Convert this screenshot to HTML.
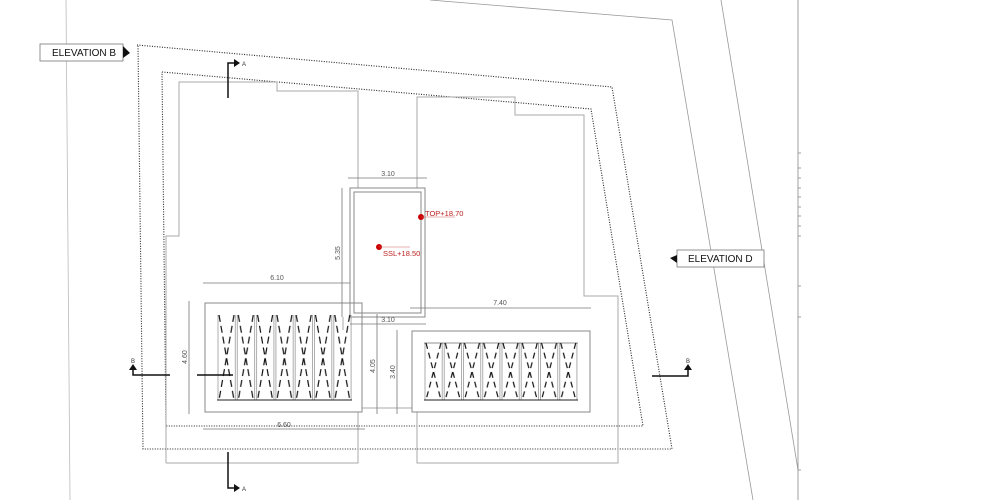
<!DOCTYPE html>
<html><head><meta charset="utf-8"><style>
html,body{margin:0;padding:0;background:#fff;width:1000px;height:500px;overflow:hidden}
svg{display:block}
text{font-family:"Liberation Sans",sans-serif}
</style></head><body>
<svg width="1000" height="500" viewBox="0 0 1000 500" xmlns="http://www.w3.org/2000/svg">
<defs>
<pattern id="hl" patternUnits="userSpaceOnUse" x="217" y="315" width="19.3" height="85">
<line x1="1" y1="0" x2="1" y2="85" stroke="#999" stroke-width="0.8"/>
<line x1="18.3" y1="0" x2="18.3" y2="85" stroke="#999" stroke-width="0.8"/>
<line x1="2" y1="0" x2="17" y2="85" stroke="#111" stroke-width="1.2" stroke-dasharray="7,4"/>
<line x1="17" y1="0" x2="2" y2="85" stroke="#111" stroke-width="1.2" stroke-dasharray="7,4"/>
</pattern>
<pattern id="hr" patternUnits="userSpaceOnUse" x="424" y="343" width="19.25" height="57">
<line x1="1" y1="0" x2="1" y2="57" stroke="#999" stroke-width="0.8"/>
<line x1="18.2" y1="0" x2="18.2" y2="57" stroke="#999" stroke-width="0.8"/>
<line x1="2" y1="0" x2="17" y2="57" stroke="#111" stroke-width="1.2" stroke-dasharray="6,4"/>
<line x1="17" y1="0" x2="2" y2="57" stroke="#111" stroke-width="1.2" stroke-dasharray="6,4"/>
</pattern>
</defs>
<g fill="none" stroke="#999" stroke-width="0.8">
<line x1="66" y1="0" x2="70" y2="500" stroke="#bbb"/>
<polyline points="430,0 672,20 753,500"/>
<line x1="721" y1="0" x2="798" y2="470"/>
<line x1="798" y1="0" x2="798" y2="500" stroke="#888"/>
<g stroke="#888"><line x1="798" y1="153" x2="801" y2="153"/><line x1="798" y1="168" x2="801" y2="168"/><line x1="798" y1="178" x2="801" y2="178"/><line x1="798" y1="188" x2="801" y2="188"/><line x1="798" y1="197" x2="801" y2="197"/><line x1="798" y1="207" x2="801" y2="207"/><line x1="798" y1="216" x2="801" y2="216"/><line x1="798" y1="226" x2="801" y2="226"/><line x1="798" y1="236" x2="801" y2="236"/><line x1="798" y1="286" x2="801" y2="286"/><line x1="798" y1="317" x2="801" y2="317"/><line x1="798" y1="470" x2="801" y2="470"/></g>
</g>
<g fill="none" stroke="#222" stroke-width="1.1" stroke-dasharray="1,1.5">
<polyline points="137,45 612,87 672,449 143,449 138,45"/>
<polyline points="162,72 591,109 643,426 166,426 162,72"/>
</g>
<g fill="none" stroke="#aaa" stroke-width="1">
<polyline points="166,463 166,236 179,236 179,82 277,82 277,91 358,91 358,188"/>
<polyline points="417,188 417,97 515,97 515,115 584,115 584,296 618,296 618,463 417,463 417,412"/>
<polyline points="166,463 358,463 358,412"/>
<line x1="362" y1="408" x2="412" y2="408"/>
<line x1="343" y1="317" x2="343" y2="330"/>
</g>
<rect x="350" y="188" width="75" height="129" fill="none" stroke="#888" stroke-width="1"/>
<rect x="354" y="192" width="67" height="121" fill="none" stroke="#888" stroke-width="1"/>
<rect x="205" y="303" width="157" height="109" fill="none" stroke="#888" stroke-width="1"/>
<rect x="217" y="315" width="135" height="85" fill="url(#hl)"/>
<line x1="217" y1="400" x2="352" y2="400" stroke="#222" stroke-width="1"/>
<rect x="412" y="331" width="178" height="81" fill="none" stroke="#888" stroke-width="1"/>
<rect x="424" y="343" width="154" height="57" fill="url(#hr)"/>
<line x1="424" y1="400" x2="578" y2="400" stroke="#222" stroke-width="1"/>
<line x1="424" y1="343" x2="578" y2="343" stroke="#222" stroke-width="0.6"/>
<g stroke="#777" stroke-width="0.8" fill="none">
<line x1="348" y1="178" x2="427" y2="178"/>
<line x1="203" y1="283" x2="350" y2="283"/>
<line x1="410" y1="308" x2="591" y2="308"/>
<line x1="350" y1="324" x2="426" y2="324"/>
<line x1="342" y1="188" x2="342" y2="317"/>
<line x1="189" y1="301" x2="189" y2="414"/>
<line x1="377" y1="314" x2="377" y2="414"/>
<line x1="397" y1="330" x2="397" y2="414"/>
<line x1="203" y1="429" x2="365" y2="429"/>
</g>
<g font-size="7" fill="#555" text-anchor="middle">
<text x="388" y="176">3.10</text>
<text x="277" y="280">6.10</text>
<text x="500" y="305">7.40</text>
<text x="388" y="322">3.10</text>
<text x="284" y="427">6.60</text>
<text transform="translate(340,253) rotate(-90)">5.35</text>
<text transform="translate(187,357) rotate(-90)">4.60</text>
<text transform="translate(375,366) rotate(-90)">4.05</text>
<text transform="translate(395,372) rotate(-90)">3.40</text>
</g>
<circle cx="421" cy="217" r="3" fill="#c00"/>
<line x1="421" y1="217" x2="455" y2="217" stroke="#c66" stroke-width="0.6"/>
<text x="425" y="216" font-size="7.5" fill="#b22">TOP+18.70</text>
<circle cx="379" cy="247" r="3" fill="#c00"/>
<line x1="379" y1="247" x2="410" y2="247" stroke="#c66" stroke-width="0.6"/>
<text x="383" y="256" font-size="7.5" fill="#b22">SSL+18.50</text>
<g stroke="#111" stroke-width="1.5" fill="none">
<polyline points="228,98 228,63 234,63"/>
<polyline points="228,452 228,488 234,488"/>
<polyline points="170,375 133,375 133,369"/>
<line x1="197" y1="375" x2="233" y2="375"/>
<polyline points="652,376 688,376 688,369"/>
</g>
<g fill="#111">
<polygon points="234,59 240,63 234,67"/>
<polygon points="234,484 240,488 234,492"/>
<polygon points="129,370 133,364 137,370"/>
<polygon points="684,370 688,364 692,370"/>
</g>
<g font-size="6" fill="#333">
<text x="242" y="66">A</text>
<text x="242" y="491">A</text>
<text x="131" y="363">B</text>
<text x="686" y="363">B</text>
</g>
<rect x="40" y="44" width="83" height="17" fill="#fff" stroke="#777" stroke-width="0.8"/>
<polygon points="123,46 130,53 123,58" fill="#111"/>
<text x="52" y="56" font-size="10" fill="#111">ELEVATION B</text>
<rect x="677" y="250" width="87" height="17" fill="#fff" stroke="#777" stroke-width="0.8"/>
<polygon points="677,255 670,258 677,263" fill="#111"/>
<text x="688" y="262" font-size="10" fill="#111">ELEVATION D</text>
</svg>
</body></html>
